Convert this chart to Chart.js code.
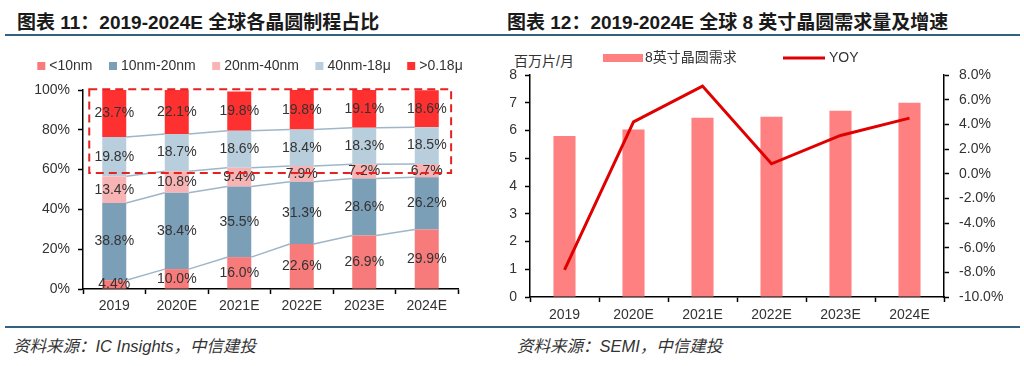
<!DOCTYPE html>
<html>
<head>
<meta charset="utf-8">
<script src="https://cdn.jsdelivr.net/npm/chart.js@4.4.1/dist/chart.umd.min.js"></script>
<style>
  body { margin: 0; width: 1024px; height: 366px; background: #fff; position: relative; overflow: hidden;
         font-family: "Liberation Sans", "Noto Sans CJK SC", sans-serif; color: #222; }
  .title { position: absolute; top: 7px; font-size: 19px; font-weight: bold; color: #1a1a1a; white-space: nowrap; }
  .rule { position: absolute; left: 5px; width: 1015px; height: 2px; background: #32627e; }
  .src { position: absolute; top: 333px; font-size: 16.5px; font-style: italic; color: #333; white-space: nowrap; }
  .unit { position: absolute; left: 514px; top: 50px; font-size: 14px; color: #333; }
  canvas { position: absolute; }
</style>
</head>
<body>
<div class="title" style="left:17px">图表 11：2019-2024E 全球各晶圆制程占比</div>
<div class="title" style="left:507px">图表 12：2019-2024E 全球 8 英寸晶圆需求量及增速</div>
<div class="rule" style="top:34px"></div>
<div class="rule" style="top:326px"></div>
<div class="src" style="left:13px">资料来源：IC Insights，中信建投</div>
<div class="src" style="left:517px">资料来源：SEMI，中信建投</div>
<div class="unit">百万片/月</div>

<div style="position:absolute;left:0;top:40px;width:500px;height:290px"><canvas id="shareChart"></canvas></div>
<div style="position:absolute;left:500px;top:40px;width:524px;height:290px"><canvas id="demandChart"></canvas></div>

<script>
const years = ['2019', '2020E', '2021E', '2022E', '2023E', '2024E'];

// chart 11: process node share (%)
const below10 = [4.4, 10.0, 16.0, 22.6, 26.9, 29.9];
const nm10to20 = [38.8, 38.4, 35.5, 31.3, 28.6, 26.2];
const nm20to40 = [13.4, 10.8, 9.4, 7.9, 7.2, 6.7];
const nm40to18u = [19.8, 18.7, 18.6, 18.4, 18.3, 18.5];
const above018u = [23.7, 22.1, 19.8, 19.8, 19.1, 18.6];

// chart 12: 8-inch wafer demand (million/month) and YOY (%)
const demand = [5.8, 6.04, 6.46, 6.5, 6.71, 7.0];
const yoy = [-7.8, 4.2, 7.1, 0.8, 3.1, 4.5];

const FONT = '"Liberation Sans", "Noto Sans CJK SC", sans-serif';
Chart.defaults.font.family = FONT;
Chart.defaults.font.size = 14;
Chart.defaults.color = '#333';
Chart.defaults.animation = false;

// text in the middle of each stacked segment
const segmentLabels = {
    id: 'segmentLabels',
    afterDatasetsDraw(chart) {
        const ctx = chart.ctx;
        ctx.save();
        ctx.font = '14px ' + FONT;
        ctx.fillStyle = '#333';
        ctx.textAlign = 'center';
        ctx.textBaseline = 'middle';
        chart.data.datasets.forEach((ds, i) => {
            chart.getDatasetMeta(i).data.forEach((bar, j) => {
                ctx.fillText(ds.data[j].toFixed(1) + '%', bar.x, (bar.y + bar.base) / 2);
            });
        });
        ctx.restore();
    }
};

// thin lines joining the segment tops of neighbouring bars
const seriesLines = {
    id: 'seriesLines',
    beforeDatasetsDraw(chart) {
        const ctx = chart.ctx;
        ctx.save();
        ctx.strokeStyle = '#9fb6c8';
        ctx.lineWidth = 1.5;
        for (let i = 0; i < chart.data.datasets.length - 1; i++) {
            const bars = chart.getDatasetMeta(i).data;
            for (let j = 0; j < bars.length - 1; j++) {
                const a = bars[j], b = bars[j + 1];
                ctx.beginPath();
                ctx.moveTo(a.x + a.width / 2, a.y);
                ctx.lineTo(b.x - b.width / 2, b.y);
                ctx.stroke();
            }
        }
        ctx.restore();
    }
};

// red dashed box round the upper part
const dashedBox = {
    id: 'dashedBox',
    afterDraw(chart) {
        const x = chart.scales.x, y = chart.scales.y;
        const left = x.getPixelForValue(-0.4), right = x.getPixelForValue(5.39);
        const top = y.getPixelForValue(100.4), bottom = y.getPixelForValue(58.3);
        const ctx = chart.ctx;
        ctx.save();
        ctx.strokeStyle = '#e52222';
        ctx.lineWidth = 2;
        ctx.setLineDash([8, 5]);
        ctx.strokeRect(left, top, right - left, bottom - top);
        ctx.restore();
    }
};

// square-marker legend row above chart 11
const shareLegend = {
    id: 'shareLegend',
    afterDraw(chart) {
        const ctx = chart.ctx;
        const sets = chart.data.datasets;
        const gap = 16.5, y = 26;
        ctx.save();
        ctx.font = '14px ' + FONT;
        ctx.textBaseline = 'middle';
        const widths = sets.map(ds => 12 + ctx.measureText(ds.label).width);
        const total = widths.reduce((s, w) => s + w, 0) + gap * (sets.length - 1);
        let x = chart.width / 2 - total / 2;
        sets.forEach((ds, i) => {
            ctx.fillStyle = ds.backgroundColor;
            ctx.fillRect(x, y - 4, 8, 8);
            ctx.fillStyle = '#333';
            ctx.fillText(ds.label, x + 12, y);
            x += widths[i] + gap;
        });
        ctx.restore();
    }
};

const shareChart = new Chart(document.getElementById('shareChart'), {
    type: 'bar',
    data: {
        labels: years,
        datasets: [
            { label: '<10nm', data: below10, backgroundColor: '#f77b7b' },
            { label: '10nm-20nm', data: nm10to20, backgroundColor: '#7c9fb8' },
            { label: '20nm-40nm', data: nm20to40, backgroundColor: '#f8b4b4' },
            { label: '40nm-18μ', data: nm40to18u, backgroundColor: '#b9cedc' },
            { label: '>0.18μ', data: above018u, backgroundColor: '#ff3030' }
        ]
    },
    options: {
        responsive: true,
        maintainAspectRatio: false,
        categoryPercentage: 1,
        barPercentage: 0.384,
        layout: { padding: { top: 50, right: 42, bottom: 0, left: 0 } },
        plugins: {
            legend: { display: false },
            tooltip: { enabled: false }
        },
        scales: {
            x: {
                stacked: true,
                grid: { drawOnChartArea: false, tickLength: 5, tickColor: '#000', tickWidth: 1.5 },
                border: { color: '#000', width: 1.5 },
                ticks: { padding: 4, color: '#333' },
                afterFit(scale) { scale.height = 41; }
            },
            y: {
                stacked: true,
                min: 0,
                max: 100,
                grid: { drawOnChartArea: false, tickLength: 5, tickColor: '#000', tickWidth: 1.5 },
                border: { color: '#000', width: 1.5 },
                ticks: { stepSize: 20, padding: 8, color: '#333', callback: v => v + '%' },
                afterFit(scale) { scale.width = 83; }
            }
        }
    },
    plugins: [seriesLines, segmentLabels, dashedBox, shareLegend]
});

// legend for chart 12, drawn on the canvas above the plot
const demandLegend = {
    id: 'demandLegend',
    afterDraw(chart) {
        const ctx = chart.ctx;
        const bars = chart.data.datasets[1], line = chart.data.datasets[0];
        ctx.save();
        ctx.font = '14px ' + FONT;
        ctx.textBaseline = 'middle';
        const y = 18;
        ctx.fillStyle = bars.backgroundColor;
        ctx.fillRect(103, y - 4, 40, 8);
        ctx.fillStyle = '#333';
        ctx.fillText(bars.label, 145, y);
        ctx.strokeStyle = line.borderColor;
        ctx.lineWidth = 3;
        ctx.beginPath();
        ctx.moveTo(283, y);
        ctx.lineTo(325, y);
        ctx.stroke();
        ctx.fillText(line.label, 329, y);
        ctx.restore();
    }
};

const demandChart = new Chart(document.getElementById('demandChart'), {
    type: 'bar',
    data: {
        labels: years,
        datasets: [
            {
                type: 'line', label: 'YOY', data: yoy, yAxisID: 'y2',
                borderColor: '#e00000', borderWidth: 3, pointRadius: 0, tension: 0, order: 0
            },
            {
                label: '8英寸晶圆需求', data: demand, yAxisID: 'y',
                backgroundColor: '#ff8080', order: 1
            }
        ]
    },
    options: {
        responsive: true,
        maintainAspectRatio: false,
        categoryPercentage: 1,
        barPercentage: 0.32,
        layout: { padding: { top: 35, right: 0, bottom: 0, left: 0 } },
        plugins: {
            legend: { display: false },
            tooltip: { enabled: false }
        },
        scales: {
            x: {
                grid: { drawOnChartArea: false, tickLength: 5, tickColor: '#000', tickWidth: 1.5, offset: true },
                border: { color: '#000', width: 1.5 },
                ticks: { padding: 5, color: '#333' },
                afterFit(scale) { scale.height = 33; }
            },
            y: {
                position: 'left',
                min: 0,
                max: 8,
                grid: { drawOnChartArea: false, tickLength: 5, tickColor: '#000', tickWidth: 1.5 },
                border: { color: '#000', width: 1.5 },
                ticks: { stepSize: 1, padding: 8, color: '#333' },
                afterFit(scale) { scale.width = 30; }
            },
            y2: {
                position: 'right',
                min: -10,
                max: 8,
                grid: { drawOnChartArea: false, tickLength: 5, tickColor: '#000', tickWidth: 1.5 },
                border: { color: '#000', width: 1.5 },
                ticks: { stepSize: 2, padding: 10, color: '#333', callback: v => v.toFixed(1) + '%' },
                afterFit(scale) { scale.width = 80; }
            }
        }
    },
    plugins: [demandLegend]
});
</script>
</body>
</html>
